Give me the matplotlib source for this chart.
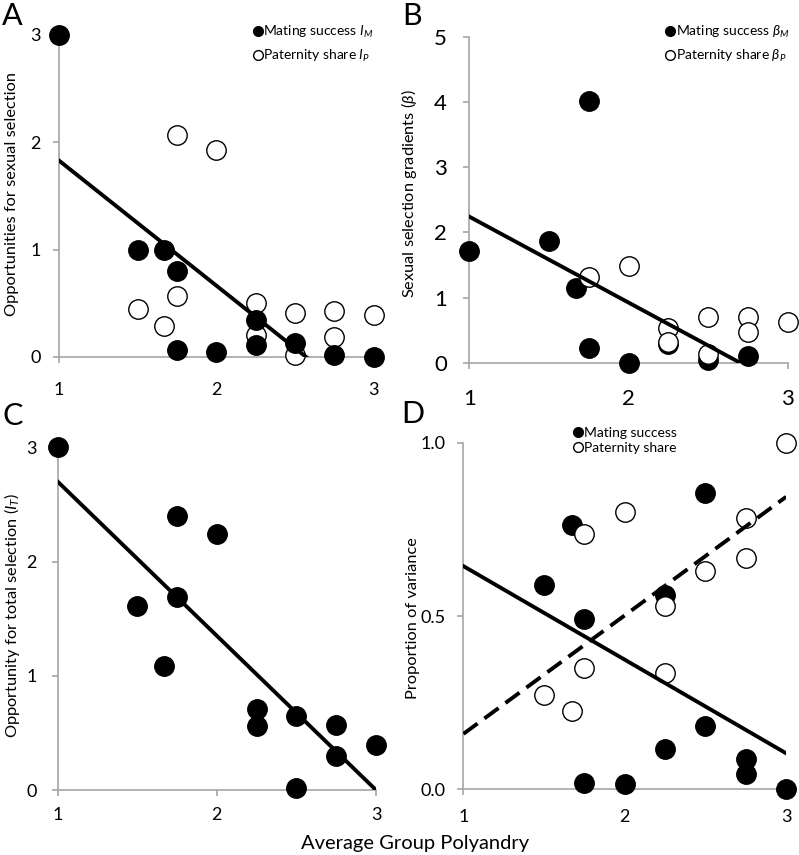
import numpy as np
import matplotlib
matplotlib.use("Agg")
import matplotlib.pyplot as plt
from matplotlib.lines import Line2D

plt.rcParams["font.family"] = ["Lato", "DejaVu Sans"]
plt.rcParams["mathtext.fontset"] = "custom"
plt.rcParams["mathtext.it"] = "Lato:italic"
plt.rcParams["mathtext.rm"] = "Lato"

# ---- data ----
# panel A: opportunities for sexual selection
a_m_x = [1, 1.5, 1.67, 1.75, 1.75, 2, 2.25, 2.25, 2.5, 2.75, 3]
a_m_y = [3.0, 1.0, 1.0, 0.8, 0.065, 0.045, 0.34, 0.11, 0.13, 0.02, 0.0]
a_p_x = [1.5, 1.67, 1.75, 1.75, 2, 2.25, 2.25, 2.5, 2.5, 2.75, 2.75, 3]
a_p_y = [0.45, 0.29, 2.07, 0.57, 1.93, 0.5, 0.2, 0.41, 0.015, 0.43, 0.19, 0.39]
a_fit_x = [1, 2.57]
a_fit_y = [1.83, 0.0]

# panel B: selection gradients
b_m_x = [1, 1.5, 1.67, 1.75, 1.75, 2, 2.25, 2.5, 2.75]
b_m_y = [1.72, 1.86, 1.14, 4.01, 0.22, 0.0, 0.29, 0.04, 0.11]
b_p_x = [1.75, 2, 2.25, 2.25, 2.5, 2.5, 2.75, 2.75, 3]
b_p_y = [1.32, 1.48, 0.53, 0.32, 0.7, 0.13, 0.7, 0.475, 0.62]
b_fit_x = [1, 2.7]
b_fit_y = [2.24, 0.0]

# panel C: opportunity for total selection
c_x = [1, 1.5, 1.67, 1.75, 1.75, 2, 2.25, 2.25, 2.5, 2.5, 2.75, 2.75, 3]
c_y = [3.0, 1.61, 1.085, 2.4, 1.69, 2.24, 0.71, 0.56, 0.65, 0.015, 0.57, 0.3, 0.39]
c_fit_x = [1, 3]
c_fit_y = [2.7, 0.0]

# panel D: proportion of variance
d_m_x = [1.5, 1.67, 1.75, 1.75, 2, 2.25, 2.25, 2.5, 2.5, 2.75, 2.75, 3]
d_m_y = [0.59, 0.764, 0.49, 0.019, 0.016, 0.56, 0.116, 0.856, 0.183, 0.088, 0.045, 0.0]
d_p_x = [1.5, 1.67, 1.75, 1.75, 2, 2.25, 2.25, 2.5, 2.75, 2.75, 3]
d_p_y = [0.271, 0.226, 0.737, 0.349, 0.799, 0.53, 0.335, 0.631, 0.782, 0.666, 1.0]
d_fit_m_x = [1, 3]
d_fit_m_y = [0.644, 0.104]
d_fit_p_x = [1, 3]
d_fit_p_y = [0.16, 0.844]

GREY = "#a6a6a6"
MS = 14
YLAB_FS = 11.8


def style(ax, ylim, yticks, ylabels, tick_fs, xpad, ypad):
    ax.set_xlim(1, 3)
    ax.set_ylim(*ylim)
    for s in ["top", "right"]:
        ax.spines[s].set_visible(False)
    for s in ["left", "bottom"]:
        ax.spines[s].set_color(GREY)
        ax.spines[s].set_linewidth(1.2)
    ax.set_xticks([1, 2, 3])
    ax.set_yticks(yticks)
    ax.set_yticklabels(ylabels)
    ax.tick_params(axis="both", direction="out", length=4, width=1.2,
                   color=GREY, labelsize=tick_fs)
    ax.tick_params(axis="x", pad=xpad)
    ax.tick_params(axis="y", pad=ypad)
    ax.set_facecolor("none")


def pts(ax, x, y, filled, label=None):
    ax.plot(x, y, "o", ls="none", ms=MS, mfc="black" if filled else "white",
            mec="black", mew=1.0, clip_on=False, zorder=3, label=label)


def legend(ax, labels, x, y, spacing):
    h = [Line2D([], [], marker="o", ls="none", ms=7, mfc="black", mec="black", mew=1),
         Line2D([], [], marker="o", ls="none", ms=7, mfc="white", mec="black", mew=1)]
    ax.legend(h, labels, loc="upper left", bbox_to_anchor=(x, y), frameon=False,
              fontsize=10, handlelength=0.5, handletextpad=0.15, borderpad=0,
              borderaxespad=0, labelspacing=spacing)


fig = plt.figure(figsize=(7.99, 8.55), dpi=100)

# A
ax = fig.add_axes([0.0738, 0.5825, 0.394, 0.3766])
style(ax, (0, 3), [0, 1, 2, 3], ["0", "1", "2", "3"], 13, 14, 9)
ax.plot(a_fit_x, a_fit_y, color="black", lw=2.8, zorder=4)
pts(ax, a_p_x, a_p_y, False)
pts(ax, a_m_x, a_m_y, True)
legend(ax, [r"Mating success $I_M$", r"Paternity share $I_P$"], 0.62, 1.035, 0.6)
ax.set_ylabel("Opportunities for sexual selection", fontsize=YLAB_FS)
ax.yaxis.set_label_coords(-0.128, 0.506)

# B
ax = fig.add_axes([0.5874, 0.5758, 0.3985, 0.3812])
style(ax, (0, 5), [0, 1, 2, 3, 4, 5], ["0", "1", "2", "3", "4", "5"], 16, 15, 12)
ax.plot(b_fit_x, b_fit_y, color="black", lw=2.8, zorder=4)
pts(ax, b_m_x, b_m_y, True)
pts(ax, b_p_x, b_p_y, False)
legend(ax, [r"Mating success $\beta_M$", r"Paternity share $\beta_P$"], 0.62, 1.04, 0.6)
ax.set_ylabel(r"Sexual selection gradients ($\beta$)", fontsize=YLAB_FS)
ax.yaxis.set_label_coords(-0.158, 0.52)

# C
ax = fig.add_axes([0.0722, 0.076, 0.3984, 0.4008])
style(ax, (0, 3), [0, 1, 2, 3], ["0", "1", "2", "3"], 13, 8, 11)
ax.plot(c_fit_x, c_fit_y, color="black", lw=2.8, zorder=4)
pts(ax, c_x, c_y, True)
ax.set_ylabel(r"Opportunity for total selection ($I_T$)", fontsize=YLAB_FS)
ax.yaxis.set_label_coords(-0.113, 0.51)

# D
ax = fig.add_axes([0.580, 0.0768, 0.4039, 0.4054])
style(ax, (0, 1), [0, 0.5, 1.0], ["0.0", "0.5", "1.0"], 13, 10, 9)
ax.plot(d_fit_m_x, d_fit_m_y, color="black", lw=2.8, zorder=4)
ax.plot(d_fit_p_x, d_fit_p_y, color="black", lw=2.8, dashes=(4.5, 2.2), zorder=4)
pts(ax, d_m_x, d_m_y, True)
pts(ax, d_p_x, d_p_y, False)
legend(ax, ["Mating success", "Paternity share"], 0.345, 1.045, 0.2)
ax.set_ylabel("Proportion of variance", fontsize=YLAB_FS)
ax.yaxis.set_label_coords(-0.134, 0.493)

# panel letters and shared x label
for lab, x, y in [("A", 0.002, 0.971), ("B", 0.503, 0.971),
                  ("C", 0.003, 0.503), ("D", 0.502, 0.505)]:
    fig.text(x, y, lab, fontsize=22, va="baseline", ha="left")
fig.text(0.519, 0.014, "Average Group Polyandry", fontsize=14.5, ha="center", va="center")

fig.savefig("out.png", dpi=100)
